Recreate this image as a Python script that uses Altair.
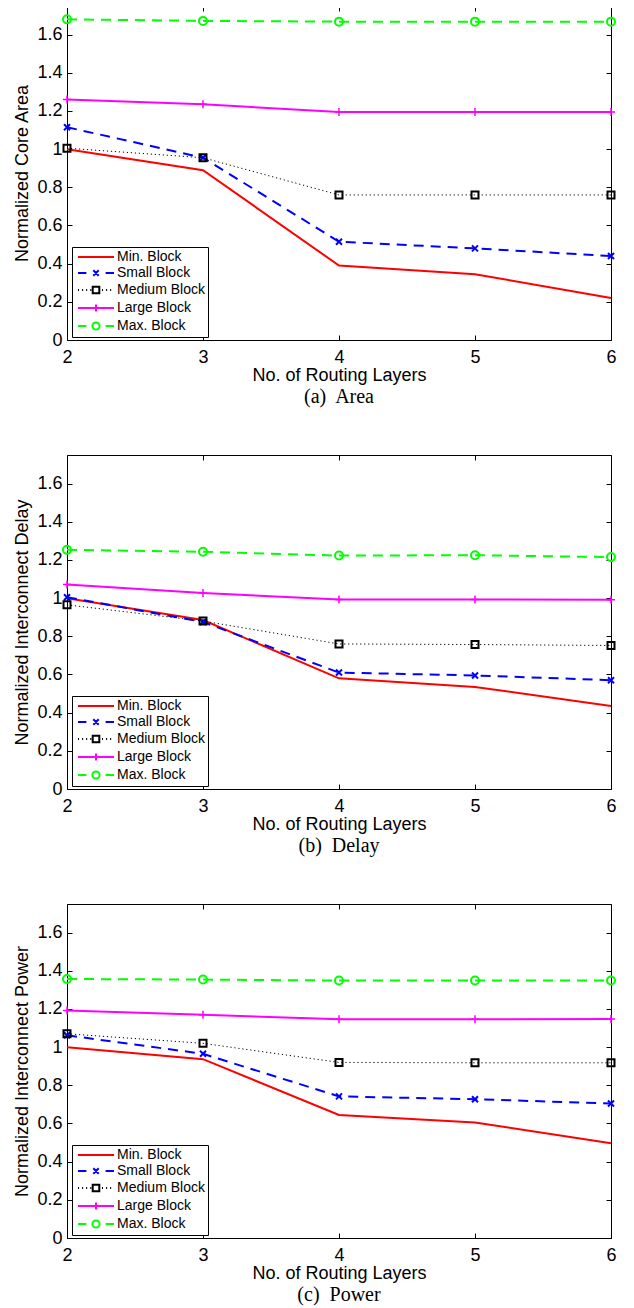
import altair as alt
import pandas as pd

# ---------------- data ----------------
routing_layers = [2, 3, 4, 5, 6]
series_names = ["Min. Block", "Small Block", "Medium Block", "Large Block", "Max. Block"]
series_colors = ["#ff0000", "#0000ff", "#000000", "#ff00ff", "#00ff00"]
y_ticks = [0, 0.2, 0.4, 0.6, 0.8, 1.0, 1.2, 1.4, 1.6]

area_min = [1.0, 0.89, 0.39, 0.345, 0.22]
area_small = [1.115, 0.955, 0.515, 0.48, 0.44]
area_medium = [1.005, 0.955, 0.76, 0.76, 0.76]
area_large = [1.26, 1.235, 1.195, 1.195, 1.195]
area_max = [1.68, 1.672, 1.668, 1.668, 1.668]

delay_min = [1.0, 0.885, 0.58, 0.535, 0.435]
delay_small = [1.005, 0.875, 0.61, 0.595, 0.57]
delay_medium = [0.965, 0.88, 0.76, 0.757, 0.752]
delay_large = [1.072, 1.027, 0.993, 0.993, 0.992]
delay_max = [1.253, 1.243, 1.223, 1.225, 1.215]

power_min = [1.0, 0.937, 0.645, 0.605, 0.497]
power_small = [1.062, 0.965, 0.742, 0.727, 0.705]
power_medium = [1.07, 1.02, 0.92, 0.918, 0.918]
power_large = [1.192, 1.17, 1.146, 1.146, 1.147]
power_max = [1.357, 1.354, 1.349, 1.349, 1.349]

panels = [
    ("Normalized Core Area", "(a)\u00a0 Area",
     [area_min, area_small, area_medium, area_large, area_max]),
    ("Normalized Interconnect Delay", "(b)\u00a0 Delay",
     [delay_min, delay_small, delay_medium, delay_large, delay_max]),
    ("Normalized Interconnect Power", "(c)\u00a0 Power",
     [power_min, power_small, power_medium, power_large, power_max]),
]

# ---------------- styles ----------------
FONT = "Liberation Sans"
line_styles = [
    dict(strokeWidth=2),
    dict(strokeWidth=2, strokeDash=[10, 7]),
    dict(strokeWidth=1, strokeDash=[1.2, 2.8]),
    dict(strokeWidth=2),
    dict(strokeWidth=2, strokeDash=[10, 7]),
]
marker_styles = [
    None,
    dict(shape="M-1,-1L1,1M-1,1L1,-1", size=36, strokeWidth=2),
    dict(shape="square", size=49, strokeWidth=2),
    dict(shape="M-1,0H1M0,-1V1", size=64, strokeWidth=1.5),
    dict(shape="circle", size=64, strokeWidth=2),
]


def dots(a, b, step):
    out, p = [], a
    while p <= b + 1e-9:
        out.append(f"M{p:.3f},0h0.17")
        p += step
    return "".join(out)


circ = "M0.6,0A0.6,0.6,0,1,1,-0.6,0A0.6,0.6,0,1,1,0.6,0"
legend_paths = [
    "M-3,0H3",
    "M-3,0H-1.6M1.6,0H3M-0.45,-0.45L0.45,0.45M-0.45,0.45L0.45,-0.45",
    dots(-3, -0.95, 0.68) + dots(1.0, 3.0, 0.68) + "M-0.55,-0.55H0.55V0.55H-0.55Z",
    "M-3,0H3M0,-0.6V0.6",
    "M-3,0H-1.6M1.6,0H3" + circ,
]

x_scale = alt.Scale(domain=[2, 6], nice=False, zero=False)
y_scale = alt.Scale(domain=[0, 1.75], nice=False, zero=False)

AX = dict(labelFont=FONT, labelFontSize=18, labelColor="black", titleFont=FONT,
          titleFontSize=18, titleFontWeight="normal", titleColor="black",
          tickColor="black", tickWidth=1, domain=False, grid=False)


def make_panel(ytitle, caption, series_values):
    rows = []
    for name, vals in zip(series_names, series_values):
        for xv, yv in zip(routing_layers, vals):
            rows.append({"series": name, "x": xv, "y": yv})
    df = pd.DataFrame(rows)
    base = alt.Chart(df)

    main_axes = base.mark_line(opacity=0).encode(
        x=alt.X("x:Q", scale=x_scale, axis=alt.Axis(
            orient="bottom", values=routing_layers, format="d", offset=-5, tickSize=5,
            labelPadding=8, labelFlush=False, labelOverlap=False,
            title="No. of Routing Layers", titlePadding=0, **AX)),
        y=alt.Y("y:Q", scale=y_scale, axis=alt.Axis(
            orient="left", values=y_ticks, format="~g", offset=-5, tickSize=5,
            labelPadding=5, labelOverlap=False,
            title=ytitle, titlePadding=5, **AX)),
        detail="series:N",
    )
    side_axes = base.mark_line(opacity=0).encode(
        x=alt.X("x:Q", scale=x_scale, axis=alt.Axis(
            orient="top", values=routing_layers, offset=-5, tickSize=5,
            labels=False, title=None, **AX)),
        y=alt.Y("y:Q", scale=y_scale, axis=alt.Axis(
            orient="right", values=y_ticks, offset=-5, tickSize=5,
            labels=False, title=None, **AX)),
        detail="series:N",
    )
    layers = [main_axes, side_axes]
    for name, color, ls, ms in zip(series_names, series_colors, line_styles, marker_styles):
        sub = base.transform_filter(alt.datum.series == name)
        layers.append(sub.mark_line(color=color, **ls).encode(
            x=alt.X("x:Q", scale=x_scale, axis=None),
            y=alt.Y("y:Q", scale=y_scale, axis=None)))
        if ms is not None:
            layers.append(sub.mark_point(color=color, filled=False, opacity=1, **ms).encode(
                x=alt.X("x:Q", scale=x_scale, axis=None),
                y=alt.Y("y:Q", scale=y_scale, axis=None)))

    leg = alt.Legend(
        title=None, orient="none", legendX=5, legendY=241, direction="vertical",
        padding=3, rowPadding=2, symbolOffset=14, labelOffset=14,
        symbolSize=144, symbolStrokeWidth=2, labelFont=FONT, labelFontSize=14,
        labelColor="black", labelLimit=300, strokeColor="black", fillColor="white",
        cornerRadius=0)
    legend_layer = base.transform_filter("false").mark_point(filled=False, opacity=1).encode(
        x=alt.X("x:Q", scale=x_scale, axis=None),
        y=alt.Y("y:Q", scale=y_scale, axis=None),
        color=alt.Color("series:N", scale=alt.Scale(domain=series_names, range=series_colors), legend=leg),
        shape=alt.Shape("series:N", scale=alt.Scale(domain=series_names, range=legend_paths), legend=leg),
    )
    layers.append(legend_layer)

    return alt.layer(*layers).resolve_axis(x="independent", y="independent").properties(
        width=544, height=334,
        title=alt.TitleParams(caption, orient="bottom", font="Liberation Serif", fontSize=20,
                              fontWeight="normal", color="black", offset=3, anchor="middle"),
    )


chart = alt.vconcat(*[make_panel(t, c, v) for t, c, v in panels], spacing=46).resolve_scale(
    color="independent", shape="independent"
).resolve_legend(color="independent", shape="independent").properties(
    padding={"left": 5, "top": -3, "right": 5, "bottom": 5},
    background="white",
).configure_view(stroke="black", strokeWidth=1)

chart.save("out.html", embed_options={"renderer": "svg", "actions": False})
